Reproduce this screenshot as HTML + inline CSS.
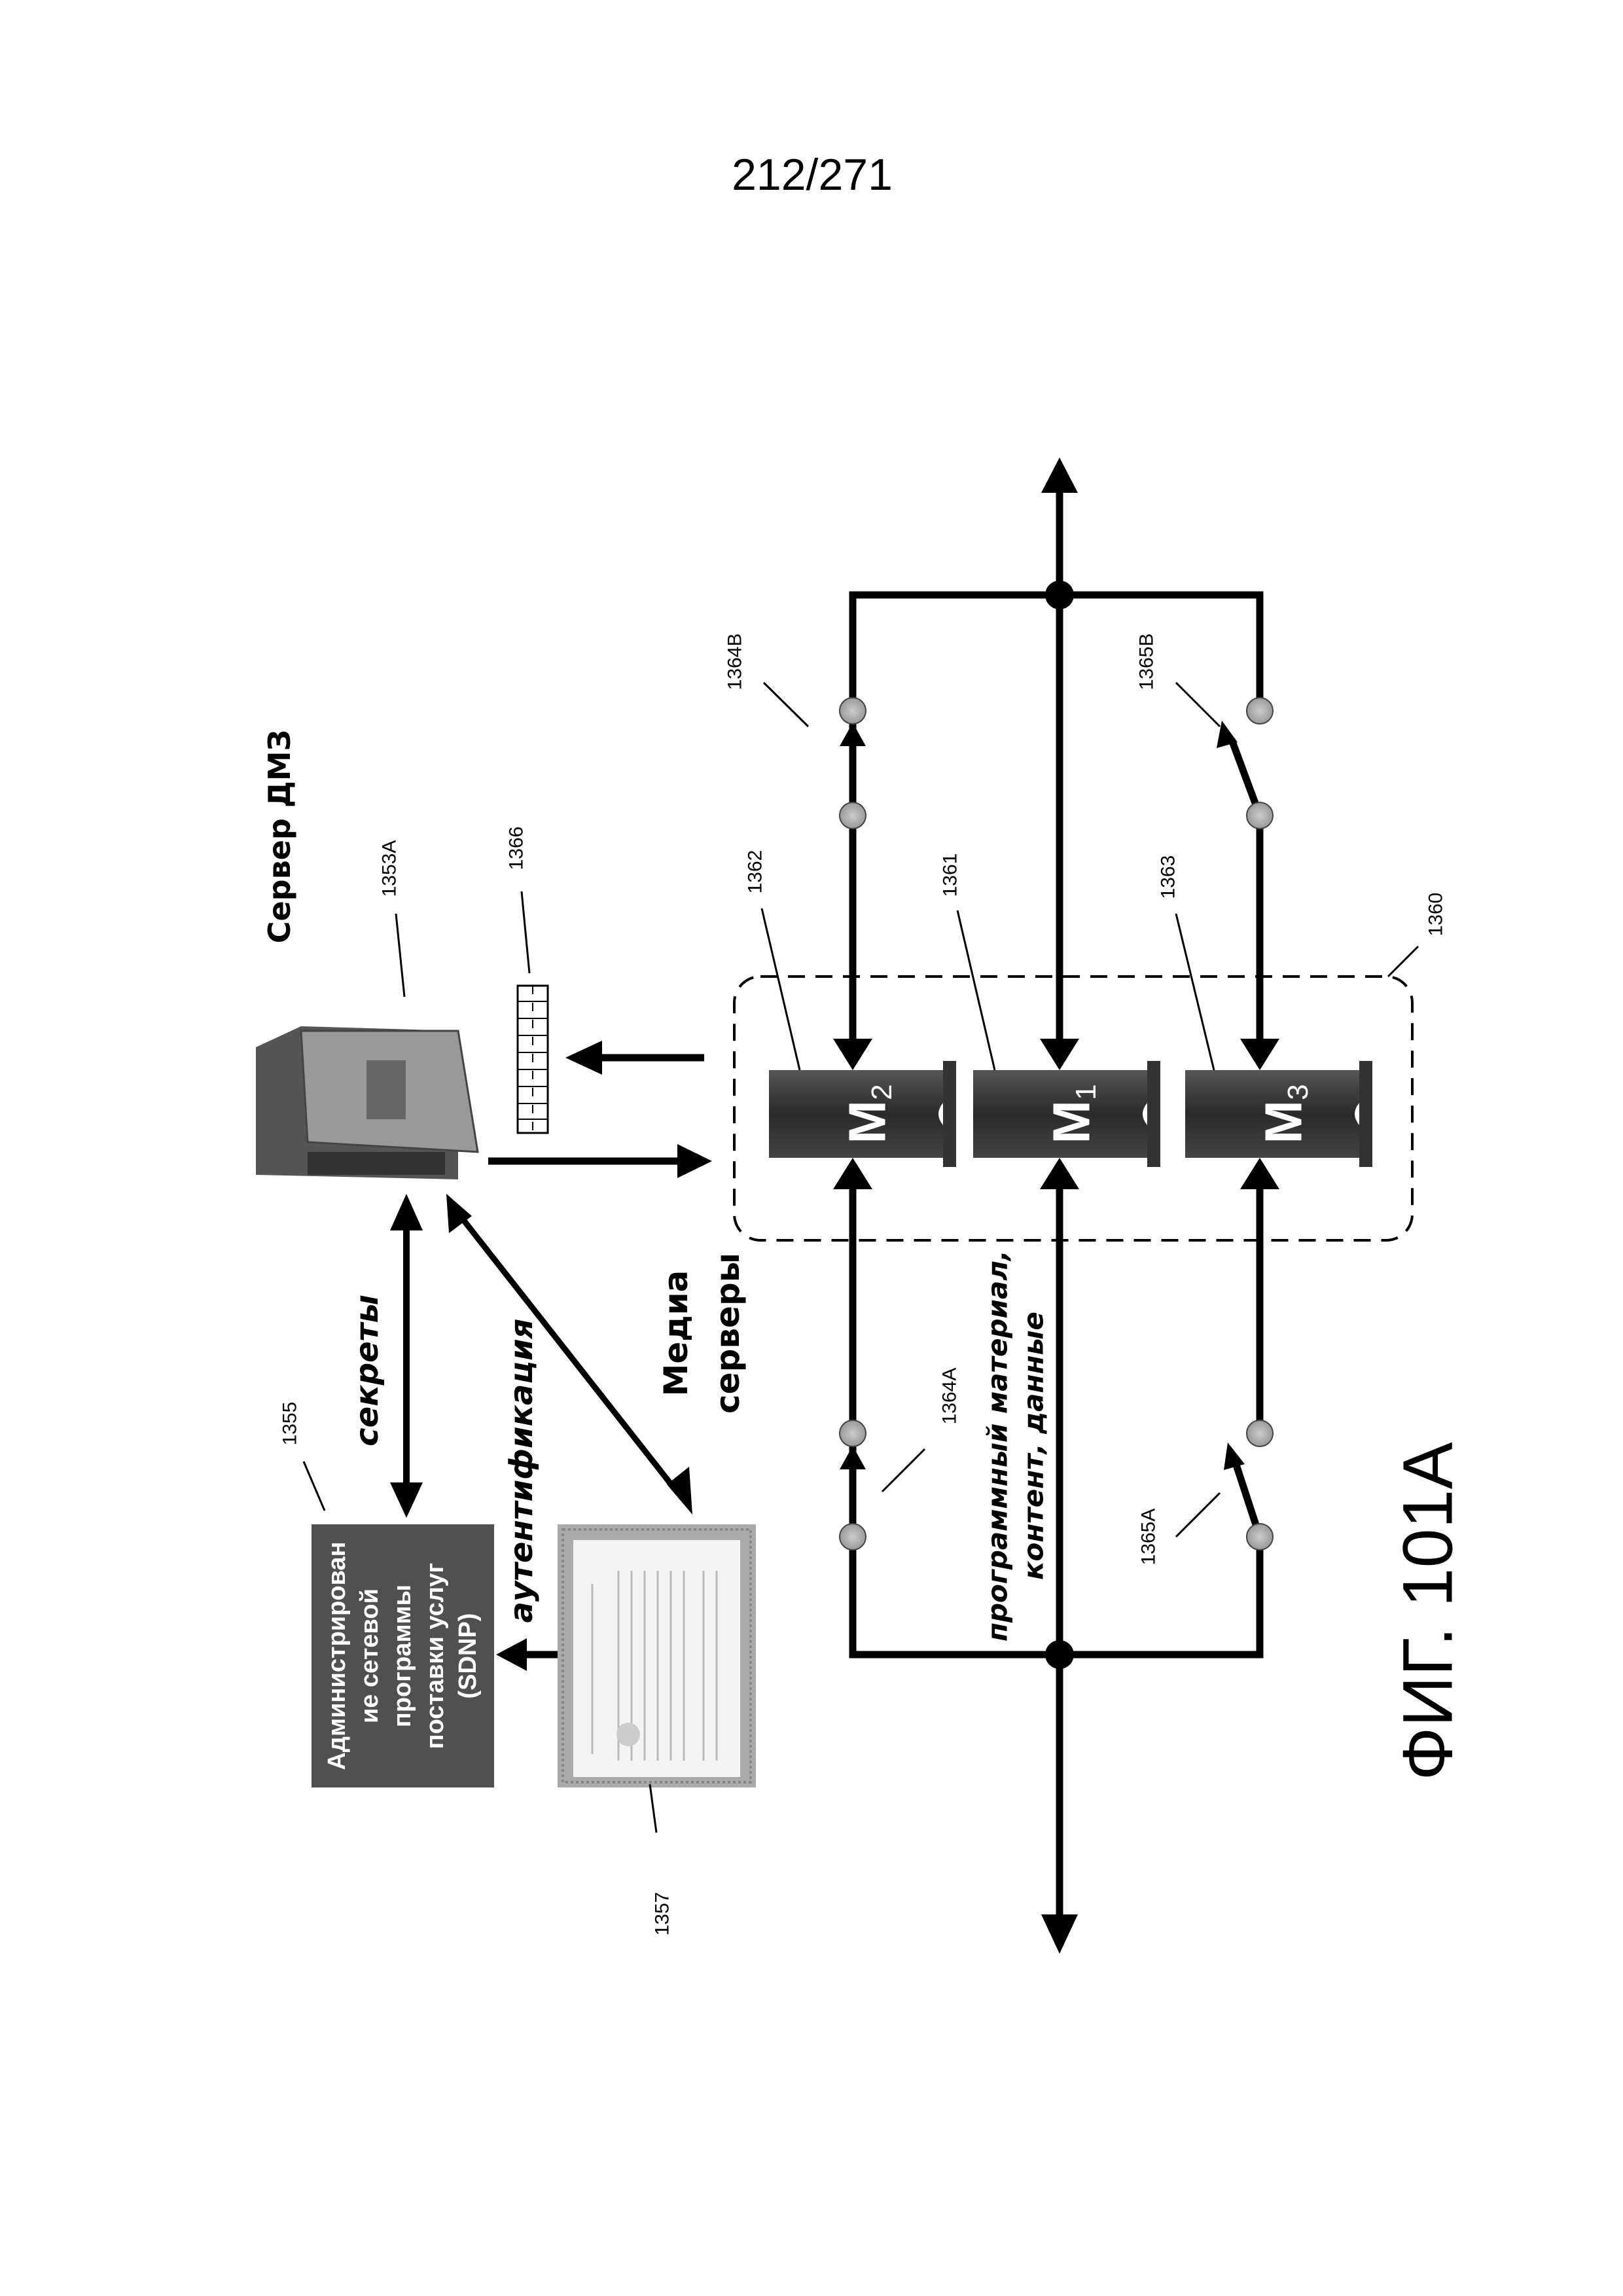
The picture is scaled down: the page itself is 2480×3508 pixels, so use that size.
<!DOCTYPE html>
<html><head><meta charset="utf-8"><style>html,body{margin:0;padding:0;background:#fff}svg{display:block}</style></head>
<body>
<svg width="2480" height="3508" viewBox="0 0 2480 3508" xmlns="http://www.w3.org/2000/svg" font-family="Liberation Sans, DejaVu Sans, sans-serif">
<defs>
<linearGradient id="srv" x1="0" y1="0" x2="0" y2="1"><stop offset="0" stop-color="#555"/><stop offset="0.5" stop-color="#2a2a2a"/><stop offset="1" stop-color="#444"/></linearGradient>
<radialGradient id="cir"><stop offset="0" stop-color="#ccc"/><stop offset="1" stop-color="#999"/></radialGradient>
</defs>
<text x="1241" y="290" font-size="68" text-anchor="middle">212/271</text>

<g stroke="#000" stroke-width="11" fill="none">
<line x1="1619" y1="750" x2="1619" y2="1590"/>
<polyline points="1303,1590 1303,909 1925,909 1925,1086"/>
<line x1="1925" y1="1246" x2="1925" y2="1590"/>
<line x1="1303" y1="1138" x2="1303" y2="1086"/>
<line x1="1619" y1="1815" x2="1619" y2="2925"/>
<polyline points="1303,1815 1303,2528 1925,2528 1925,2348"/>
<line x1="1925" y1="2190" x2="1925" y2="1815"/>
<line x1="1303" y1="2243" x2="1303" y2="2190"/>
<line x1="1925" y1="1246" x2="1882" y2="1130"/>
<line x1="1925" y1="2348" x2="1888" y2="2235"/>
</g>
<circle cx="1619" cy="909" r="22" fill="#000"/>
<circle cx="1619" cy="2528" r="22" fill="#000"/>
<polygon points="1619,699 1591,753 1647,753" fill="#000"/>
<polygon points="1619,2985 1591,2925 1647,2925" fill="#000"/>
<g fill="#000">
<polygon points="1303,1635 1273,1587 1333,1587"/>
<polygon points="1619,1635 1589,1587 1649,1587"/>
<polygon points="1925,1635 1895,1587 1955,1587"/>
<polygon points="1303,1769 1273,1817 1333,1817"/>
<polygon points="1619,1769 1589,1817 1649,1817"/>
<polygon points="1925,1769 1895,1817 1955,1817"/>
<polygon points="1303,1104 1283,1140 1323,1140"/>
<polygon points="1303,2209 1283,2245 1323,2245"/>
<polygon points="1867,1101 1859,1143 1891,1134"/>
<polygon points="1876,2204 1870,2246 1902,2237"/>
</g>
<g fill="url(#cir)" stroke="#444" stroke-width="2">
<ellipse cx="1303" cy="1086" rx="20" ry="20"/><ellipse cx="1303" cy="1246" rx="20" ry="20"/>
<ellipse cx="1925" cy="1086" rx="20" ry="20"/><ellipse cx="1925" cy="1246" rx="20" ry="20"/>
<ellipse cx="1303" cy="2190" rx="20" ry="20"/><ellipse cx="1303" cy="2348" rx="20" ry="20"/>
<ellipse cx="1925" cy="2190" rx="20" ry="20"/><ellipse cx="1925" cy="2348" rx="20" ry="20"/>
</g>
<rect x="1122" y="1492" width="1036" height="403" rx="40" fill="none" stroke="#000" stroke-width="4" stroke-dasharray="26,16"/>
<g>
<g transform="translate(1175,1635)"><rect width="286" height="134" fill="url(#srv)"/><rect x="266" y="-14" width="20" height="162" fill="#333"/><path d="M266,50 q-14,17 0,34" fill="#fff"/><text transform="translate(150,67) rotate(-90)" font-size="80" font-weight="bold" fill="#fff" text-anchor="middle" dominant-baseline="central">M<tspan font-size="44" dy="22" font-weight="normal">2</tspan></text></g>
<g transform="translate(1487,1635)"><rect width="286" height="134" fill="url(#srv)"/><rect x="266" y="-14" width="20" height="162" fill="#333"/><path d="M266,50 q-14,17 0,34" fill="#fff"/><text transform="translate(150,67) rotate(-90)" font-size="80" font-weight="bold" fill="#fff" text-anchor="middle" dominant-baseline="central">M<tspan font-size="44" dy="22" font-weight="normal">1</tspan></text></g>
<g transform="translate(1811,1635)"><rect width="286" height="134" fill="url(#srv)"/><rect x="266" y="-14" width="20" height="162" fill="#333"/><path d="M266,50 q-14,17 0,34" fill="#fff"/><text transform="translate(150,67) rotate(-90)" font-size="80" font-weight="bold" fill="#fff" text-anchor="middle" dominant-baseline="central">M<tspan font-size="44" dy="22" font-weight="normal">3</tspan></text></g>
</g>
<polygon points="391,1600 460,1568 700,1575 700,1802 391,1795" fill="#555"/>
<polygon points="460,1575 700,1575 730,1760 470,1745" fill="#999" stroke="#444" stroke-width="3"/>
<rect x="560" y="1620" width="60" height="90" fill="#666"/>
<rect x="470" y="1760" width="210" height="35" fill="#333"/>
<rect x="791" y="1506" width="46" height="225" fill="#fff" stroke="#000" stroke-width="3"/>
<g stroke="#000" stroke-width="2"><line x1="791" y1="1530" x2="837" y2="1530"/><line x1="791" y1="1556" x2="837" y2="1556"/><line x1="791" y1="1582" x2="837" y2="1582"/><line x1="791" y1="1608" x2="837" y2="1608"/><line x1="791" y1="1634" x2="837" y2="1634"/><line x1="791" y1="1660" x2="837" y2="1660"/><line x1="791" y1="1686" x2="837" y2="1686"/><line x1="791" y1="1710" x2="837" y2="1710"/><line x1="814" y1="1506" x2="814" y2="1731" stroke-dasharray="13,13"/></g>
<line x1="1076" y1="1616" x2="920" y2="1616" stroke="#000" stroke-width="11"/>
<polygon points="864,1616 920,1590 920,1642" fill="#000"/>
<line x1="746" y1="1774" x2="1035" y2="1774" stroke="#000" stroke-width="11"/>
<polygon points="1088,1774 1035,1748 1035,1800" fill="#000"/>
<line x1="621" y1="1880" x2="621" y2="2265" stroke="#000" stroke-width="10"/>
<polygon points="621,1824 596,1880 646,1880" fill="#000"/>
<polygon points="621,2319 596,2265 646,2265" fill="#000"/>
<line x1="705" y1="1860" x2="1035" y2="2280" stroke="#000" stroke-width="9"/>
<polygon points="682,1824 686,1884 721,1858" fill="#000"/>
<polygon points="1058,2314 1019,2268 1053,2241" fill="#000"/>
<rect x="476" y="2329" width="279" height="402" fill="#505050"/>
<text transform="translate(615,2530) rotate(-90)" font-size="38" font-weight="bold" fill="#fff" text-anchor="middle"><tspan x="0" y="-88">Администрирован</tspan><tspan x="0" y="-38">ие сетевой</tspan><tspan x="0" y="12">программы</tspan><tspan x="0" y="62">поставки услуг</tspan><tspan x="0" y="112">(SDNP)</tspan></text>
<rect x="852" y="2329" width="303" height="402" fill="#aaa"/>
<rect x="860" y="2337" width="287" height="386" fill="none" stroke="#888" stroke-width="4" stroke-dasharray="4,4"/>
<rect x="876" y="2353" width="255" height="362" fill="#f4f4f4"/>
<g stroke="#bbb" stroke-width="3">
<line x1="905" y1="2420" x2="905" y2="2680"/><line x1="945" y1="2400" x2="945" y2="2690"/><line x1="965" y1="2400" x2="965" y2="2690"/><line x1="985" y1="2400" x2="985" y2="2690"/><line x1="1005" y1="2400" x2="1005" y2="2690"/><line x1="1025" y1="2400" x2="1025" y2="2690"/><line x1="1045" y1="2400" x2="1045" y2="2690"/><line x1="1075" y1="2400" x2="1075" y2="2690"/><line x1="1095" y1="2400" x2="1095" y2="2690"/>
</g>
<circle cx="960" cy="2650" r="18" fill="#ccc"/>
<line x1="852" y1="2528" x2="800" y2="2528" stroke="#000" stroke-width="11"/>
<polygon points="758,2528 805,2503 805,2553" fill="#000"/>
<g stroke="#000" stroke-width="3">
<line x1="1167" y1="1043" x2="1235" y2="1110"/><line x1="1797" y1="1043" x2="1864" y2="1110"/>
<line x1="1164" y1="1388" x2="1222" y2="1635"/><line x1="1463" y1="1391" x2="1520" y2="1635"/><line x1="1797" y1="1396" x2="1855" y2="1635"/>
<line x1="2167" y1="1446" x2="2121" y2="1492"/>
<line x1="1413" y1="2214" x2="1348" y2="2279"/><line x1="1864" y1="2281" x2="1797" y2="2348"/>
<line x1="605" y1="1396" x2="618" y2="1523"/><line x1="797" y1="1362" x2="809" y2="1487"/>
<line x1="464" y1="2233" x2="496" y2="2308"/><line x1="993" y1="2726" x2="1003" y2="2800"/>
</g>
<g font-size="30" text-anchor="middle" dominant-baseline="central">
<text transform="translate(1123,1011) rotate(-90)">1364B</text>
<text transform="translate(1752,1011) rotate(-90)">1365B</text>
<text transform="translate(1154,1332) rotate(-90)">1362</text>
<text transform="translate(1452,1337) rotate(-90)">1361</text>
<text transform="translate(1785,1340) rotate(-90)">1363</text>
<text transform="translate(2194,1397) rotate(-90)">1360</text>
<text transform="translate(1451,2133) rotate(-90)">1364A</text>
<text transform="translate(1755,2348) rotate(-90)">1365A</text>
<text transform="translate(595,1327) rotate(-90)">1353A</text>
<text transform="translate(789,1296) rotate(-90)">1366</text>
<text transform="translate(443,2175) rotate(-90)">1355</text>
<text transform="translate(1012,2924) rotate(-90)">1357</text>
</g>
<g font-weight="bold" text-anchor="middle" dominant-baseline="central" font-family="DejaVu Sans, Liberation Sans, sans-serif">
<text transform="translate(427,1278) rotate(-90)" font-size="46">Сервер ДМЗ</text>
<text transform="translate(1033,2037) rotate(-90)" font-size="50">Медиа</text>
<text transform="translate(1112,2037) rotate(-90)" font-size="50">серверы</text>
<text transform="translate(561,2094) rotate(-90)" font-size="48" font-style="italic">секреты</text>
<text transform="translate(797,2247) rotate(-90)" font-size="48" font-style="italic">аутентификация</text>
<text transform="translate(1524,2209) rotate(-90)" font-size="42" font-style="italic">программный материал,</text>
<text transform="translate(1579,2209) rotate(-90)" font-size="42" font-style="italic">контент, данные</text>
</g>
<text transform="translate(2181,2462) rotate(-90)" font-size="108" text-anchor="middle" dominant-baseline="central">ФИГ. 101А</text>
</svg>
</body></html>
